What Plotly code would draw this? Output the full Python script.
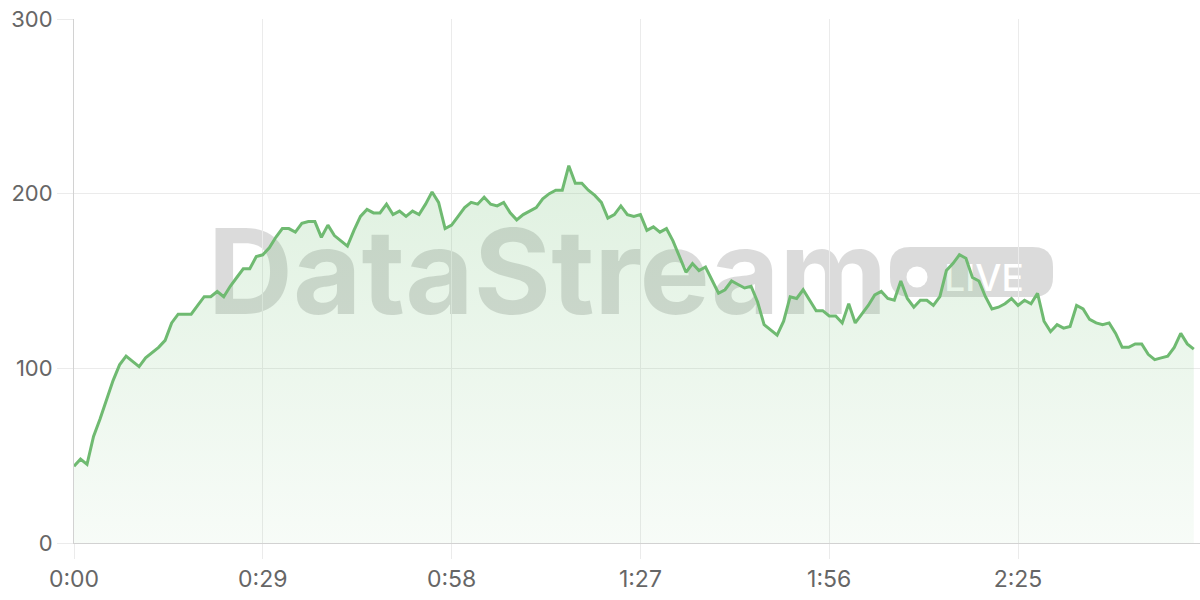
import plotly.graph_objects as go

# values, one sample per second (0:00 .. 2:52)
values = [
    44, 48, 45, 61, 71, 82, 93, 102, 107, 104,
    101, 106, 109, 112, 116, 126, 131, 131, 131, 136,
    141, 141, 144, 141, 147, 152, 157, 157, 164, 165,
    169, 175, 180, 180, 178, 183, 184, 184, 175, 182,
    176, 173, 170, 179, 187, 191, 189, 189, 194, 188,
    190, 187, 190, 188, 194, 201, 195, 180, 182, 187,
    192, 195, 194, 198, 194, 193, 195, 189, 185, 188,
    190, 192, 197, 200, 202, 202, 216, 206, 206, 202,
    199, 195, 186, 188, 193, 188, 187, 188, 179, 181,
    178, 180, 173, 164, 155, 160, 156, 158, 150, 143,
    145, 150, 148, 146, 147, 138, 125, 122, 119, 127,
    141, 140, 145, 139, 133, 133, 130, 130, 126, 137,
    126, 131, 136, 142, 144, 140, 139, 150, 140, 135,
    139, 139, 136, 141, 156, 160, 165, 163, 152, 150,
    141, 134, 135, 137, 140, 136, 139, 137, 143, 127,
    121, 125, 123, 124, 136, 134, 128, 126, 125, 126,
    120, 112, 112, 114, 114, 108, 105, 106, 107, 112,
    120, 114, 111,
]
seconds = list(range(len(values)))

x_tick_values = [0, 29, 58, 87, 116, 145]
x_tick_labels = ["0:00", "0:29", "0:58", "1:27", "1:56", "2:25"]
y_tick_values = [0, 100, 200, 300]

LINE = "rgb(111,186,113)"
GRID = "#ebebeb"
AXIS = "#d2d2d2"
TEXT = "#666666"
FONT = "Inter"

# target plot-area geometry in window pixels
L, R, T, B = 74, 1200, 19, 543
W, H = 1200, 600


def px(x):
    return (x - L) / (R - L)


def py(y):
    return (B - y) / (B - T)


fig = go.Figure()
fig.add_trace(
    go.Scatter(
        x=seconds,
        y=values,
        mode="lines",
        line=dict(color=LINE, width=3),
        fill="tozeroy",
        fillgradient=dict(
            type="vertical",
            start=0,
            stop=300,
            colorscale=[[0, "rgba(102,187,106,0.05)"], [1, "rgba(102,187,106,0.27)"]],
        ),
        hoverinfo="skip",
    )
)

WM = "rgba(0,0,0,0.14)"
shapes = []
# "DataStream" text
shapes.append(
    dict(
        type="rect", xref="paper", yref="paper", layer="between",
        x0=px(200), x1=px(895), y0=py(314), y1=py(220),
        line=dict(width=0), fillcolor="rgba(0,0,0,0)",
        label=dict(
            text="<b>DataStream</b>",
            textposition="middle center",
            font=dict(family=FONT, size=118, color=WM),
        ),
    )
)
# LIVE badge (rounded rectangle)
bx0, bx1, by0, by1, r = 890, 1053, 247, 297, 20


def P(x, y):
    return f"{px(x):.5f},{py(y):.5f}"


path = (
    f"M {P(bx0 + r, by0)} L {P(bx1 - r, by0)} Q {P(bx1, by0)} {P(bx1, by0 + r)} "
    f"L {P(bx1, by1 - r)} Q {P(bx1, by1)} {P(bx1 - r, by1)} "
    f"L {P(bx0 + r, by1)} Q {P(bx0, by1)} {P(bx0, by1 - r)} "
    f"L {P(bx0, by0 + r)} Q {P(bx0, by0)} {P(bx0 + r, by0)} Z"
)
shapes.append(
    dict(type="path", xref="paper", yref="paper", layer="between",
         path=path, fillcolor=WM, line=dict(width=0))
)
shapes.append(
    dict(type="circle", xref="paper", yref="paper", layer="between",
         x0=px(906.5), x1=px(927.5), y0=py(287.5), y1=py(266.5),
         fillcolor="white", line=dict(width=0))
)
shapes.append(
    dict(
        type="rect", xref="paper", yref="paper", layer="between",
        x0=px(932), x1=px(1036), y0=py(292), y1=py(261),
        line=dict(width=0), fillcolor="rgba(0,0,0,0)",
        label=dict(text="LIVE", textposition="middle center",
                   font=dict(family=FONT, size=37, color="white", weight=500)),
    )
)

fig.update_layout(
    width=W,
    height=H,
    margin=dict(l=L, r=W - R, t=T, b=H - B, autoexpand=False),
    paper_bgcolor="white",
    plot_bgcolor="white",
    showlegend=False,
    hovermode=False,
    font=dict(family=FONT, color=TEXT),
    shapes=shapes,
)
fig.update_xaxes(
    range=[0, (R - L) / ((1018 - 74) / 145)],
    tickvals=x_tick_values,
    ticktext=x_tick_labels,
    showgrid=True,
    gridcolor=GRID,
    gridwidth=1,
    ticks="outside",
    ticklen=15,
    tickcolor=GRID,
    showline=True,
    linecolor=AXIS,
    linewidth=1,
    zeroline=False,
    automargin=False,
    ticklabeloverflow="allow",
    tickfont=dict(size=23, color=TEXT, family=FONT),
)
fig.update_yaxes(
    range=[0, 300],
    tickvals=y_tick_values,
    showgrid=True,
    gridcolor=GRID,
    gridwidth=1,
    ticks="outside",
    ticklen=16,
    tickcolor=GRID,
    showline=True,
    linecolor=AXIS,
    linewidth=1,
    zeroline=False,
    automargin=False,
    ticklabeloverflow="allow",
    tickfont=dict(size=22, color=TEXT, family=FONT),
)

fig.write_html(
    "out.html",
    config={"displayModeBar": False},
    post_script="document.body.style.margin='0';document.body.style.overflow='hidden';",
)
